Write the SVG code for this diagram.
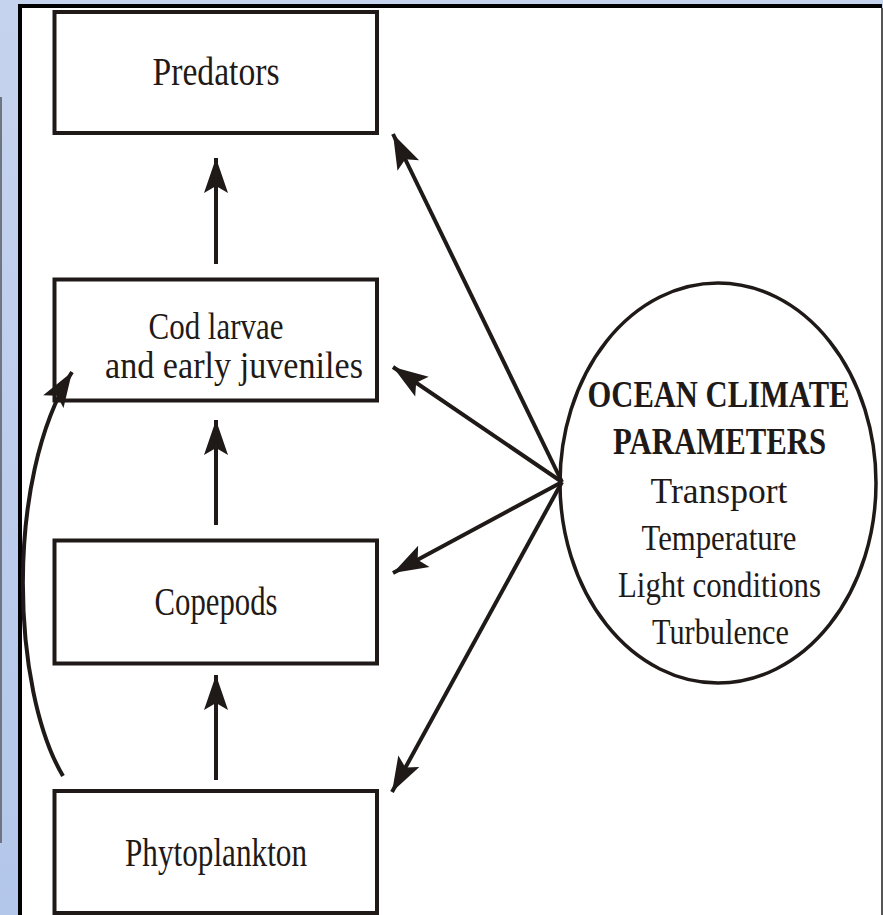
<svg xmlns="http://www.w3.org/2000/svg" width="883" height="915" viewBox="0 0 883 915">
<defs>
<linearGradient id="bg" x1="0" y1="0" x2="0" y2="1">
<stop offset="0" stop-color="#c6d3ee"/>
<stop offset="1" stop-color="#b3c7ea"/>
</linearGradient>
<marker id="ah" viewBox="-36 -13 38 26" refX="0" refY="0" markerUnits="userSpaceOnUse" markerWidth="38" markerHeight="26" orient="auto">
<path d="M0,0 L-35,-12 L-28,0 L-35,12 Z" fill="#1f1a17"/>
</marker>
<style>
.box{fill:none;stroke:#1f1a17;stroke-width:4}
.ln{fill:none;stroke:#1f1a17;stroke-width:4}
.t{font-family:"Liberation Serif","Times New Roman",serif;fill:#1f1a17;text-anchor:middle}
</style>
</defs>
<rect x="0" y="0" width="883" height="915" fill="url(#bg)"/>
<rect x="0" y="97" width="2" height="746" fill="#6e7480"/>
<rect x="20" y="6" width="862" height="909" fill="#ffffff"/>
<line x1="20" y1="6" x2="882" y2="6" stroke="#000" stroke-width="4"/>
<line x1="20" y1="4" x2="20" y2="915" stroke="#000" stroke-width="4"/>
<line x1="882" y1="8" x2="882" y2="915" stroke="#555" stroke-width="2"/>

<g id="connectors">
<line class="ln" x1="216" y1="264" x2="216" y2="158" marker-end="url(#ah)"/>
<line class="ln" x1="216" y1="525" x2="216" y2="420" marker-end="url(#ah)"/>
<line class="ln" x1="216" y1="780" x2="216" y2="675" marker-end="url(#ah)"/>
<path class="ln" d="M63,776 C12,690 4,480 72,372" marker-end="url(#ah)"/>
<line class="ln" x1="562" y1="482" x2="393" y2="134" marker-end="url(#ah)"/>
<line class="ln" x1="562" y1="482" x2="393" y2="367" marker-end="url(#ah)"/>
<line class="ln" x1="562" y1="482" x2="393" y2="573" marker-end="url(#ah)"/>
<line class="ln" x1="562" y1="482" x2="392" y2="792" marker-end="url(#ah)"/>
</g>

<g id="predators">
<rect class="box" x="54.5" y="12" width="322.5" height="121"/>
<text class="t" x="216" y="85" font-size="40" textLength="127" lengthAdjust="spacingAndGlyphs">Predators</text>
</g>
<g id="cod-larvae">
<rect class="box" x="54.5" y="279.5" width="322.5" height="121"/>
<text class="t" x="216" y="339" font-size="37" textLength="135" lengthAdjust="spacingAndGlyphs">Cod larvae</text>
<text class="t" x="234" y="378" font-size="37" textLength="258" lengthAdjust="spacingAndGlyphs">and early juveniles</text>
</g>
<g id="copepods">
<rect class="box" x="54.5" y="540.5" width="322.5" height="123"/>
<text class="t" x="216" y="615" font-size="40" textLength="123" lengthAdjust="spacingAndGlyphs">Copepods</text>
</g>
<g id="phytoplankton">
<rect class="box" x="54.5" y="791" width="322.5" height="122"/>
<text class="t" x="216" y="866" font-size="40" textLength="182" lengthAdjust="spacingAndGlyphs">Phytoplankton</text>
</g>
<g id="ocean-climate">
<ellipse cx="718" cy="483" rx="158" ry="200" fill="none" stroke="#1f1a17" stroke-width="3.5"/>
<text class="t" x="718.5" y="407" font-size="38" font-weight="bold" textLength="262" lengthAdjust="spacingAndGlyphs">OCEAN CLIMATE</text>
<text class="t" x="719.5" y="454" font-size="38" font-weight="bold" textLength="213" lengthAdjust="spacingAndGlyphs">PARAMETERS</text>
<text class="t" x="719" y="503" font-size="36" textLength="137" lengthAdjust="spacingAndGlyphs">Transport</text>
<text class="t" x="719" y="550" font-size="36" textLength="155" lengthAdjust="spacingAndGlyphs">Temperature</text>
<text class="t" x="719.5" y="597" font-size="36" textLength="203" lengthAdjust="spacingAndGlyphs">Light conditions</text>
<text class="t" x="720.5" y="644" font-size="36" textLength="137" lengthAdjust="spacingAndGlyphs">Turbulence</text>
</g>
</svg>
